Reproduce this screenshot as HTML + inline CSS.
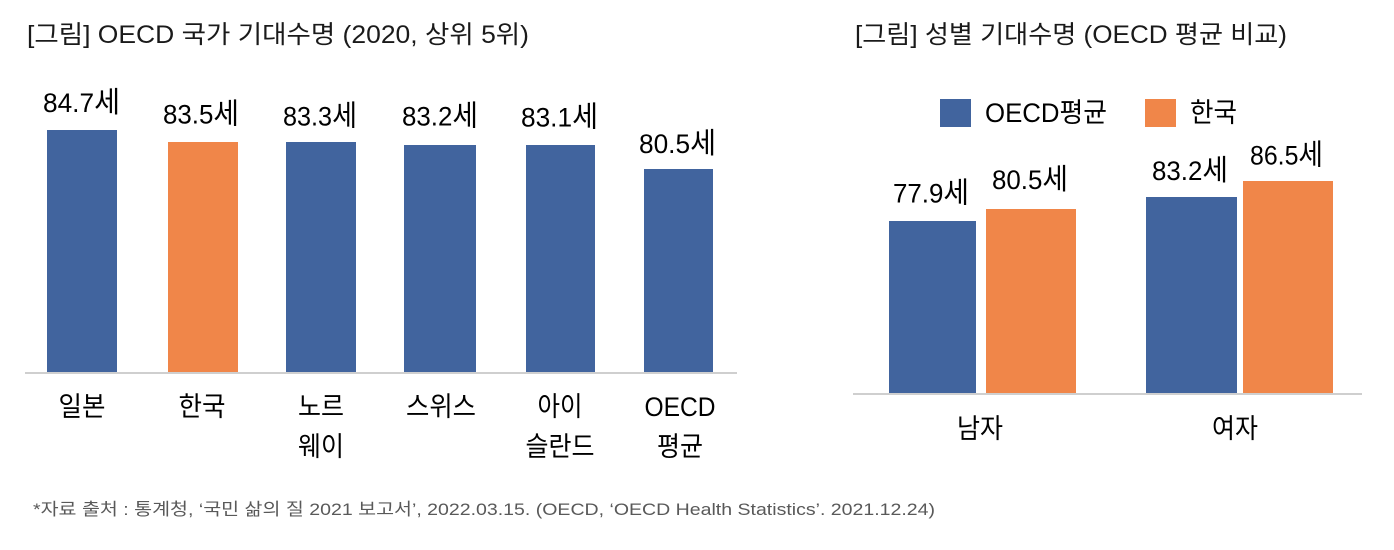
<!DOCTYPE html>
<html>
<head>
<meta charset="utf-8">
<style>
  html, body { margin: 0; padding: 0; background: #ffffff; }
  body { width: 1394px; height: 550px; overflow: hidden; }
  svg { display: block; }
  .t { font-family: "Liberation Sans", "Noto Sans CJK KR", sans-serif; }
</style>
</head>
<body>
<svg width="1394" height="550" viewBox="0 0 1394 550" xmlns="http://www.w3.org/2000/svg">
  <rect x="0" y="0" width="1394" height="550" fill="#ffffff"/>

  <!-- Titles -->
  <text class="t" x="27" y="43" font-size="25" fill="#1a1a1a" textLength="502" lengthAdjust="spacingAndGlyphs">[그림] OECD 국가 기대수명 (2020, 상위 5위)</text>
  <text class="t" x="855" y="43" font-size="25" fill="#1a1a1a" textLength="432" lengthAdjust="spacingAndGlyphs">[그림] 성별 기대수명 (OECD 평균 비교)</text>

  <!-- LEFT CHART -->
  <g fill="#41649E">
    <rect x="47" y="130" width="70" height="242"/>
    <rect x="286" y="142" width="70" height="230"/>
    <rect x="404" y="145" width="72" height="227"/>
    <rect x="526" y="145" width="69" height="227"/>
    <rect x="644" y="169" width="69" height="203"/>
  </g>
  <rect x="168" y="142" width="70" height="230" fill="#F08649"/>
  <line x1="25" y1="373" x2="737" y2="373" stroke="#BFBFBF" stroke-width="1.6"/>

  <g class="t" font-size="27" fill="#000">
    <text x="43" y="112" textLength="77" lengthAdjust="spacingAndGlyphs">84.7<tspan font-size="29">세</tspan></text>
    <text x="163" y="123.5" textLength="76" lengthAdjust="spacingAndGlyphs">83.5<tspan font-size="29">세</tspan></text>
    <text x="283" y="125.5" textLength="74" lengthAdjust="spacingAndGlyphs">83.3<tspan font-size="29">세</tspan></text>
    <text x="402" y="125.5" textLength="76" lengthAdjust="spacingAndGlyphs">83.2<tspan font-size="29">세</tspan></text>
    <text x="521" y="126.5" textLength="77" lengthAdjust="spacingAndGlyphs">83.1<tspan font-size="29">세</tspan></text>
    <text x="639" y="153" textLength="77" lengthAdjust="spacingAndGlyphs">80.5<tspan font-size="29">세</tspan></text>
  </g>

  <g class="t" font-size="27" fill="#000" text-anchor="middle">
    <text x="82" y="416" textLength="47" lengthAdjust="spacingAndGlyphs">일본</text>
    <text x="202" y="416" textLength="47" lengthAdjust="spacingAndGlyphs">한국</text>
    <text x="321" y="416" textLength="46" lengthAdjust="spacingAndGlyphs">노르</text>
    <text x="321" y="456" textLength="46" lengthAdjust="spacingAndGlyphs">웨이</text>
    <text x="441" y="416" textLength="70" lengthAdjust="spacingAndGlyphs">스위스</text>
    <text x="560" y="416" textLength="45" lengthAdjust="spacingAndGlyphs">아이</text>
    <text x="560" y="456" textLength="69" lengthAdjust="spacingAndGlyphs">슬란드</text>
    <text x="680" y="416" textLength="71" lengthAdjust="spacingAndGlyphs">OECD</text>
    <text x="680" y="456" textLength="46" lengthAdjust="spacingAndGlyphs">평균</text>
  </g>

  <!-- RIGHT CHART -->
  <!-- Legend -->
  <rect x="940" y="99" width="31" height="28" fill="#41649E"/>
  <text class="t" x="985" y="122" font-size="27" fill="#000" textLength="122" lengthAdjust="spacingAndGlyphs">OECD평균</text>
  <rect x="1145" y="99" width="31" height="28" fill="#F08649"/>
  <text class="t" x="1190" y="122" font-size="27" fill="#000" textLength="47" lengthAdjust="spacingAndGlyphs">한국</text>

  <rect x="889" y="221" width="87" height="172" fill="#41649E"/>
  <rect x="986" y="209" width="90" height="184" fill="#F08649"/>
  <rect x="1146" y="197" width="91" height="196" fill="#41649E"/>
  <rect x="1243" y="181" width="90" height="212" fill="#F08649"/>
  <line x1="853" y1="394" x2="1362" y2="394" stroke="#BFBFBF" stroke-width="1.6"/>

  <g class="t" font-size="27" fill="#000">
    <text x="893" y="202.5" textLength="76" lengthAdjust="spacingAndGlyphs">77.9<tspan font-size="29">세</tspan></text>
    <text x="992" y="189" textLength="76" lengthAdjust="spacingAndGlyphs">80.5<tspan font-size="29">세</tspan></text>
    <text x="1152" y="180" textLength="76" lengthAdjust="spacingAndGlyphs">83.2<tspan font-size="29">세</tspan></text>
    <text x="1250" y="164.5" textLength="73" lengthAdjust="spacingAndGlyphs">86.5<tspan font-size="29">세</tspan></text>
  </g>

  <g class="t" font-size="27" fill="#000" text-anchor="middle">
    <text x="980" y="438" textLength="46" lengthAdjust="spacingAndGlyphs">남자</text>
    <text x="1235" y="438" textLength="46" lengthAdjust="spacingAndGlyphs">여자</text>
  </g>

  <!-- Footnote -->
  <text class="t" x="33" y="515" font-size="17" fill="#595959" textLength="902" lengthAdjust="spacingAndGlyphs">*자료 출처 : 통계청, ‘국민 삶의 질 2021 보고서’, 2022.03.15. (OECD, ‘OECD Health Statistics’. 2021.12.24)</text>
</svg>
</body>
</html>
